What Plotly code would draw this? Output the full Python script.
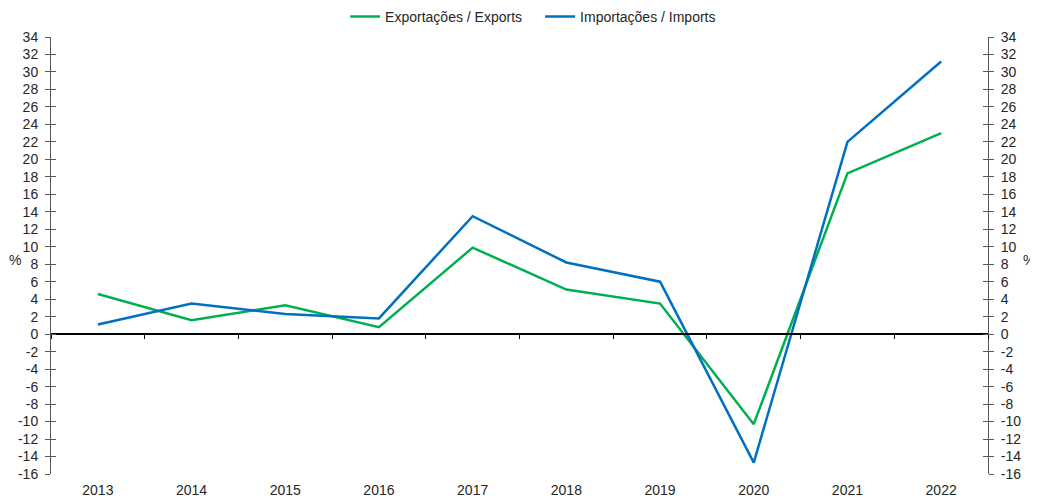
import plotly.graph_objects as go

years = ["2013", "2014", "2015", "2016", "2017", "2018", "2019", "2020", "2021", "2022"]
exports = [4.6, 1.6, 3.3, 0.8, 9.9, 5.1, 3.5, -10.3, 18.4, 23.0]
imports = [1.1, 3.5, 2.3, 1.8, 13.5, 8.2, 6.0, -14.7, 22.0, 31.2]
y_ticks = [-16, -14, -12, -10, -8, -6, -4, -2, 0, 2, 4, 6, 8, 10, 12, 14, 16,
           18, 20, 22, 24, 26, 28, 30, 32, 34]
y_tick_labels = [str(v) for v in y_ticks]
y_range = [-16, 34]

GREEN = "#00B050"
BLUE = "#0070C0"
TXT = "#262626"
AX = "#595959"
FONT = "Liberation Sans, Arial, sans-serif"
FS = 14

fig = go.Figure()
fig.add_trace(go.Scatter(x=years, y=exports, mode="lines", name="Exportações / Exports",
                         line=dict(color=GREEN, width=2.5)))
fig.add_trace(go.Scatter(x=years, y=imports, mode="lines", name="Importações / Imports",
                         line=dict(color=BLUE, width=2.5)))

# invisible helper traces so that the overlay axes (zero line, right axis, crossing ticks) are drawn
idx = list(range(len(years)))
helper = dict(mode="lines", line=dict(width=0), opacity=0, showlegend=False, hoverinfo="skip")
fig.add_trace(go.Scatter(x=idx, y=exports, xaxis="x2", yaxis="y2", **helper))
fig.add_trace(go.Scatter(x=years, y=exports, xaxis="x", yaxis="y3", **helper))
fig.add_trace(go.Scatter(x=years, y=exports, xaxis="x", yaxis="y4", **helper))

zero_pos = (0 - y_range[0]) / (y_range[1] - y_range[0])

common_y = dict(range=y_range, tickmode="array", tickvals=y_ticks, ticktext=y_tick_labels,
                showgrid=False, zeroline=False,
                tickfont=dict(family=FONT, size=FS, color=TXT), fixedrange=True)

fig.update_layout(
    width=1030, height=489,
    margin=dict(l=43, r=50, t=29, b=23, autoexpand=False),
    paper_bgcolor="white", plot_bgcolor="white",
    font=dict(family=FONT, size=FS, color=TXT),
    showlegend=True,
    legend=dict(orientation="h", x=0.522, xanchor="center", y=1.046, yanchor="middle",
                font=dict(family=FONT, size=FS, color=TXT), itemwidth=30,
                entrywidth=150, entrywidthmode="pixels",
                bgcolor="rgba(0,0,0,0)"),
    xaxis=dict(type="category", range=[-0.5, 9.5], showline=False, ticks="",
               showgrid=False, zeroline=False, ticklabelstandoff=6,
               tickfont=dict(family=FONT, size=FS, color=TXT)),
    xaxis2=dict(type="linear", overlaying="x", anchor="free", position=zero_pos,
                range=[-0.5, 9.5], tick0=-0.5, dtick=1, showticklabels=False,
                showline=True, linecolor="#000000", linewidth=1.5,
                ticks="outside", ticklen=4, tickcolor="#000000", tickwidth=1.2,
                showgrid=False, zeroline=False),
    yaxis=dict(**common_y, side="left", showline=True, linecolor=AX, linewidth=1,
               ticks="outside", ticklen=5, tickcolor=AX, tickwidth=1,
               ticklabelstandoff=4),
    yaxis3=dict(**common_y, overlaying="y", side="left", anchor="x", showline=False,
                ticks="inside", ticklen=5, tickcolor=AX, tickwidth=1,
                showticklabels=False),
    yaxis2=dict(**common_y, overlaying="y", side="right", anchor="x", showline=True,
                linecolor=AX, linewidth=1, ticks="outside", ticklen=5, tickcolor=AX,
                tickwidth=1, ticklabelstandoff=4),
    yaxis4=dict(**common_y, overlaying="y", side="right", anchor="x", showline=False,
                ticks="inside", ticklen=5, tickcolor=AX, tickwidth=1,
                showticklabels=False),
    annotations=[
        dict(text="%", xref="paper", yref="paper", x=-0.038, y=0.49, xanchor="center",
             yanchor="middle", showarrow=False, font=dict(family=FONT, size=FS, color=TXT)),
        dict(text="%", xref="paper", yref="paper", x=1.044, y=0.49, xanchor="center",
             yanchor="middle", showarrow=False, font=dict(family=FONT, size=FS, color=TXT)),
    ],
)

fig.write_html("out.html")
